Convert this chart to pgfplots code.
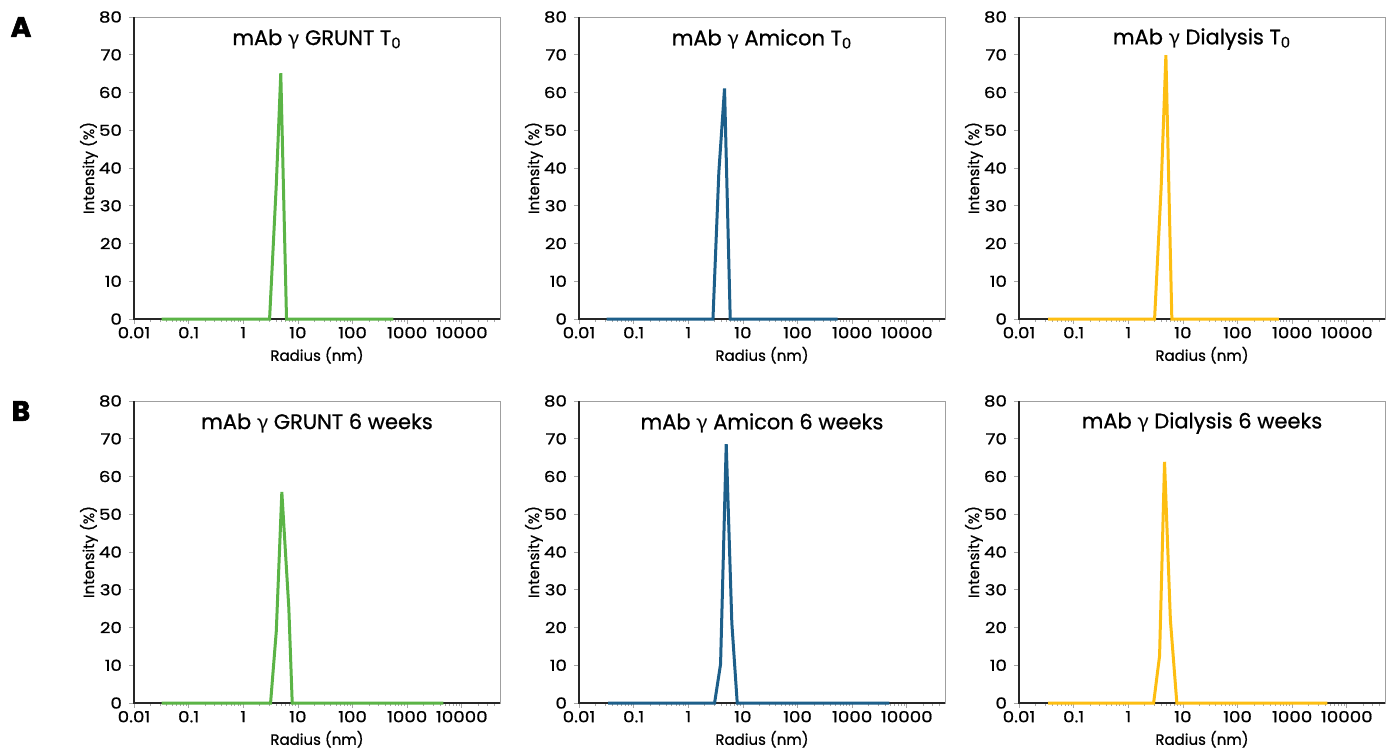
\documentclass[border=0pt]{standalone}
\usepackage{fontspec}
\setmainfont{Poppins}
\newfontfamily\grk{Lato}
\newfontfamily\tfont{Poppins}[FakeBold=0.8]
\newfontfamily\nfont{Poppins}[FakeBold=0.8, FakeStretch=1.2]
\newfontfamily\hfont{Poppins}[UprightFont=*, BoldFont=* Bold, BoldFeatures={FakeBold=2}]
\usepackage{pgfplots}
\pgfplotsset{compat=1.18}

\definecolor{cgreen}{HTML}{5BB446}
\definecolor{cblue}{HTML}{1D5F8A}
\definecolor{cyellow}{HTML}{FDBE12}

\pgfplotsset{
  every axis/.append style={
  scale only axis, width=183pt, height=151pt,
  xmin=0.01, xmax=50000, ymin=0, ymax=80,
  xtick={0.01,0.1,1,10,100,1000,10000},
  xticklabels={0.01,0.1,1,10,100,1000,10000},
  minor xtick={0.02,0.03,0.04,0.05,0.06,0.07,0.08,0.09,
   0.2,0.3,0.4,0.5,0.6,0.7,0.8,0.9,2,3,4,5,6,7,8,9,
   20,30,40,50,60,70,80,90,200,300,400,500,600,700,800,900,
   2000,3000,4000,5000,6000,7000,8000,9000,20000,30000,40000},
  ytick={0,10,20,30,40,50,60,70,80},
  xtick pos=bottom, ytick pos=left,
  tick align=outside,
  major tick length=2.5pt, minor tick length=1.5pt,
  tick style={gray!70, line width=0.4pt},
  axis line style={gray!75, line width=0.5pt},
  /pgf/number format/assume math mode=true,
  tick label style={font=\nfont\fontsize{7.6}{9}\selectfont},
  x tick label style={yshift=2pt},
  every axis label/.append style={font=\tfont\fontsize{7.5}{9}\selectfont},
  xlabel={Radius (nm)}, ylabel={Intensity (\%)},
  every axis x label/.append style={at={(axis description cs:0.5,-0.12)}, anchor=center},
  every axis y label/.append style={at={(axis description cs:-0.123,0.5)}, anchor=center},
  clip=false,
  every axis plot/.append style={line width=1.5pt},
  }
}
\newcommand\blackframe{\draw[black!85,line width=0.6pt] (rel axis cs:0,1) -- (rel axis cs:0,0) -- (rel axis cs:1,0);}
\newcommand\ttl[1]{\node[font=\tfont\fontsize{10.5}{12}\selectfont, anchor=center] at (rel axis cs:0.5,0.927) {#1};}

\begin{document}
\begin{tikzpicture}
\useasboundingbox (0,0) rectangle (693pt,376pt);
\node[font=\hfont\bfseries\fontsize{14}{14}\selectfont] at (10.5pt,362.5pt) {A};
\node[font=\hfont\bfseries\fontsize{14}{14}\selectfont] at (10.5pt,170.5pt) {B};

\begin{axis}[xmode=log, at={(67pt,216.5pt)}, anchor=south west]
\blackframe
\ttl{mAb {\grk γ} GRUNT T\textsubscript{0}}
\addplot[cgreen] coordinates {(0.032,0) (3.03,0) (4.02,35.5) (4.86,65.1) (6.19,0) (560,0)};
\end{axis}

\begin{axis}[xmode=log, at={(289.5pt,216.5pt)}, anchor=south west]
\blackframe
\ttl{mAb {\grk γ} Amicon T\textsubscript{0}}
\addplot[cblue] coordinates {(0.032,0) (2.83,0) (3.63,39.0) (4.61,61.1) (5.86,0) (540,0)};
\end{axis}

\begin{axis}[xmode=log, at={(509.5pt,216.5pt)}, anchor=south west]
\blackframe
\ttl{mAb {\grk γ} Dialysis T\textsubscript{0}}
\addplot[cyellow] coordinates {(0.034,0) (3.03,0) (4.0,35) (4.88,69.9) (6.27,0) (570,0)};
\end{axis}

\begin{axis}[xmode=log, at={(67pt,24.5pt)}, anchor=south west]
\blackframe
\ttl{mAb {\grk γ} GRUNT 6 weeks}
\addplot[cgreen] coordinates {(0.032,0) (3.16,0) (4.02,19.0) (5.08,55.9) (6.82,25.2) (7.87,0) (4600,0)};
\end{axis}

\begin{axis}[xmode=log, at={(289.5pt,24.5pt)}, anchor=south west]
\blackframe
\ttl{mAb {\grk γ} Amicon 6 weeks}
\addplot[cblue] coordinates {(0.034,0) (3.03,0) (3.90,10.3) (4.95,68.6) (6.27,21.2) (7.87,0) (4800,0)};
\end{axis}

\begin{axis}[xmode=log, at={(509.5pt,24.5pt)}, anchor=south west]
\blackframe
\ttl{mAb {\grk γ} Dialysis 6 weeks}
\addplot[cyellow] coordinates {(0.034,0) (2.91,0) (3.74,12.5) (4.61,63.9) (5.9,22) (7.74,0) (4400,0)};
\end{axis}
\end{tikzpicture}
\end{document}
